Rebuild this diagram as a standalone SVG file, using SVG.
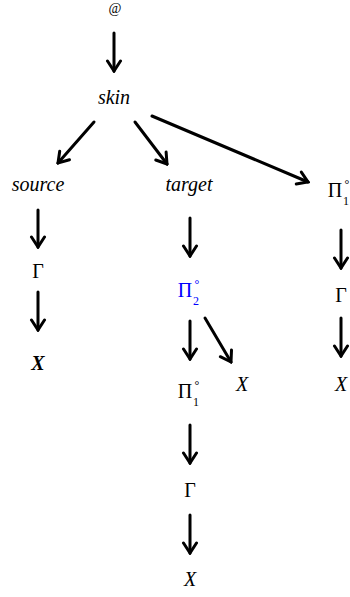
<svg xmlns="http://www.w3.org/2000/svg" width="350" height="597" viewBox="0 0 350 597" font-family="'Liberation Serif', 'DejaVu Serif', serif">
<style>
text{font-family:'Liberation Serif','DejaVu Serif',serif;fill:#000;text-anchor:middle}
.it{font-style:italic;font-size:20px}
.g{font-size:20px}
.s{font-size:12px}
.blue{fill:#0000ff}
.c line{stroke:#000;stroke-width:3;stroke-linecap:round;marker-end:url(#ah)}
</style>
<defs>
<marker id="ah" markerUnits="userSpaceOnUse" viewBox="-14 -9 16 18" refX="0" refY="0" markerWidth="16" markerHeight="18" orient="auto">
<path d="M-10,-6.5 L0,0 L-10,6.5" fill="none" stroke="#000" stroke-width="3" stroke-linecap="round" stroke-linejoin="miter"/>
</marker>
</defs>
<g id="connectors" class="c">
<line x1="114" y1="33" x2="114" y2="71"/>
<line x1="94" y1="122" x2="58" y2="163"/>
<line x1="135" y1="122" x2="167" y2="164"/>
<line x1="152" y1="116" x2="308" y2="182"/>
<line x1="38" y1="210" x2="38" y2="247"/>
<line x1="38" y1="292" x2="38" y2="330"/>
<line x1="190" y1="218" x2="190" y2="256"/>
<line x1="190" y1="321" x2="190" y2="359"/>
<line x1="205" y1="318" x2="231" y2="362"/>
<line x1="190" y1="425" x2="190" y2="463"/>
<line x1="190" y1="515" x2="190" y2="553"/>
<line x1="341" y1="230" x2="341" y2="268"/>
<line x1="341" y1="318" x2="341" y2="356"/>
</g>
<g id="n-at"><text x="115" y="13" style="font-size:14px">@</text></g>
<g id="n-skin"><text class="it" x="114" y="104">skin</text></g>
<g id="n-source"><text class="it" x="38" y="191">source</text></g>
<g id="n-target"><text class="it" x="189" y="191">target</text></g>
<g id="n-pi1-right"><text class="g" x="335" y="197">Π</text><text class="s" x="347" y="188">°</text><text class="s" x="346" y="205">1</text></g>
<g id="n-gamma-left"><text class="g" x="38" y="278">Γ</text></g>
<g id="n-x-left"><text class="it" x="38" y="370" font-weight="bold">X</text></g>
<g id="n-pi2"><text class="g blue" x="185" y="297">Π</text><text class="s blue" x="197" y="288">°</text><text class="s blue" x="196" y="305">2</text></g>
<g id="n-pi1-mid"><text class="g" x="185" y="398">Π</text><text class="s" x="197" y="389">°</text><text class="s" x="196" y="406">1</text></g>
<g id="n-x-mid1"><text class="it" x="242" y="391">X</text></g>
<g id="n-gamma-mid"><text class="g" x="190" y="497">Γ</text></g>
<g id="n-x-mid2"><text class="it" x="190" y="586">X</text></g>
<g id="n-gamma-right"><text class="g" x="341" y="302">Γ</text></g>
<g id="n-x-right"><text class="it" x="341" y="391">X</text></g>
</svg>
